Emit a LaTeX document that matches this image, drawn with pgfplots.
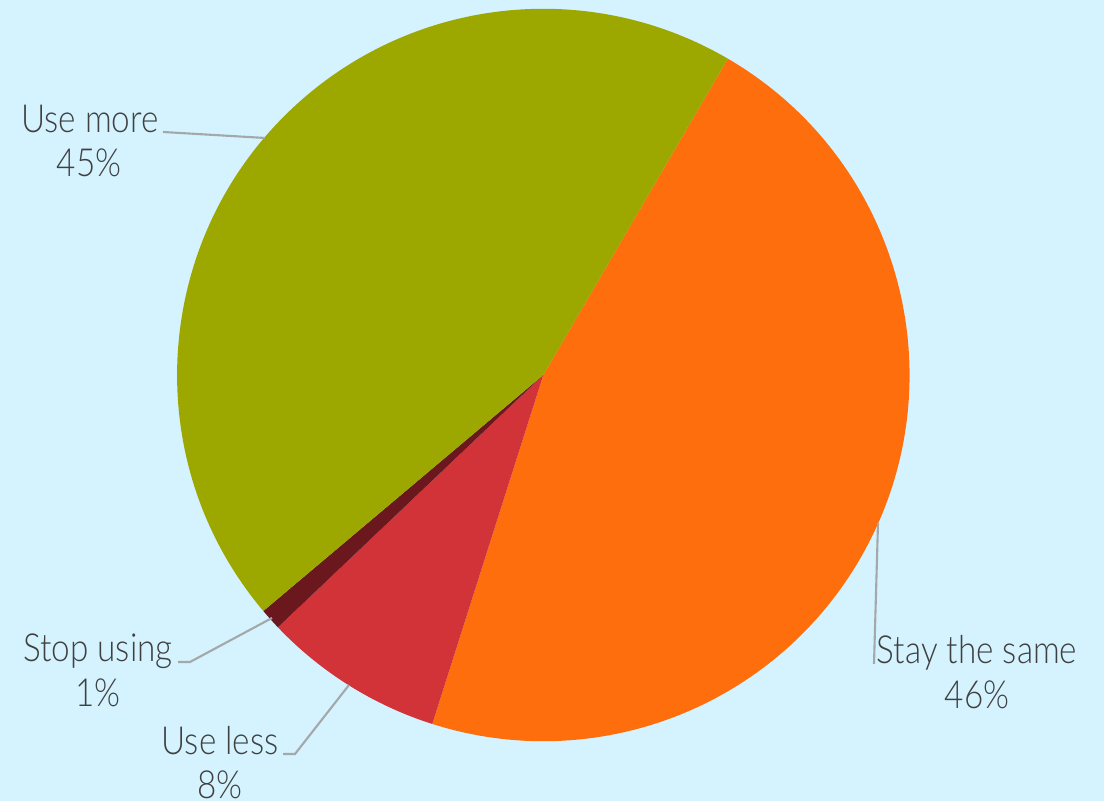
\documentclass[border=0pt]{standalone}
\usepackage{pgfplots}
\usepackage{pgfplotstable}
\pgfplotsset{compat=1.18}
\usepackage{fontspec}
\setmainfont{Lato}[UprightFont={* Light}, FakeStretch=0.86]
\definecolor{bgc}{HTML}{D4F3FE}
\definecolor{cStay}{HTML}{FF6E0C}
\definecolor{cLess}{HTML}{D13338}
\definecolor{cStop}{HTML}{6A181D}
\definecolor{cMore}{HTML}{9CA800}
\definecolor{txt}{HTML}{404040}
\definecolor{lead}{HTML}{A4A8AA}
\pgfplotstableread[col sep=comma]{
label,value
Stay the same,46.5
Use less,8.0
Stop using,0.95
Use more,44.55
}\piedata
\begin{document}
\begin{tikzpicture}
\begin{axis}[
  x=0.01cm, y=0.01cm,
  xmin=0, xmax=1104, ymin=0, ymax=801,
  hide axis, clip=false,
]
\fill[bgc] (axis cs:0,0) rectangle (axis cs:1104,801);
\coordinate (ll) at (axis cs:0,0);
\coordinate (ur) at (axis cs:1104,801);
\pgfplotsextra{
  \xdef\cura{59.75}
  \foreach \i/\c in {0/cStay,1/cLess,2/cStop,3/cMore}{
    \pgfplotstablegetelem{\i}{value}\of\piedata
    \pgfmathsetmacro\nexta{\cura - 3.6*\pgfplotsretval}
    \fill[\c] (axis cs:543.3,426) -- ++(\cura:3.66cm)
      arc[start angle=\cura, end angle=\nexta, radius=3.66cm] -- cycle;
    \xdef\cura{\nexta}
  }
}
% leader lines (pixel coords, y flipped)
\draw[lead, line width=0.6pt] (axis cs:163,669) -- (axis cs:265,663);
\draw[lead, line width=0.6pt] (axis cs:178,139) -- (axis cs:190,139) -- (axis cs:272,183);
\draw[lead, line width=0.6pt] (axis cs:283,47) -- (axis cs:295,47) -- (axis cs:349,116);
\draw[lead, line width=0.6pt] (axis cs:878,278) -- (axis cs:874,137);
% labels
\begin{scope}[every node/.style={text=txt, font=\fontsize{11}{12}\selectfont, anchor=base, inner sep=0pt}]
\node at (axis cs:90,668) {Use more};
\node at (axis cs:89,624) {45\%};
\node at (axis cs:98,139) {Stop using};
\node at (axis cs:98,94) {1\%};
\node at (axis cs:220,46) {Use less};
\node at (axis cs:220,2) {8\%};
\node at (axis cs:977,137) {Stay the same};
\node at (axis cs:977,92) {46\%};
\end{scope}
\end{axis}
\pgfresetboundingbox
\useasboundingbox (ll) rectangle (ur);
\end{tikzpicture}
\end{document}
